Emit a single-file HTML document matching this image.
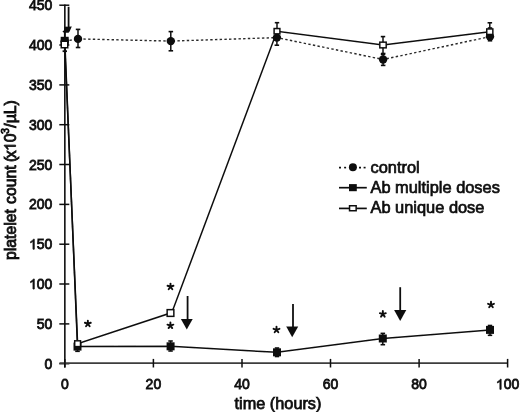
<!DOCTYPE html>
<html><head><meta charset="utf-8"><style>
html,body{margin:0;padding:0;background:#fff;width:520px;height:413px;overflow:hidden}
svg{display:block;filter:grayscale(1)}
text{font-family:"Liberation Sans", sans-serif;fill:#111;stroke:#111;stroke-width:0.45px}
.tk{font-size:14px;stroke-width:0.8px}
.ti{font-size:16.3px;stroke-width:0.75px}
.yl{font-size:15.75px;stroke-width:0.85px}
.lg{font-size:16.4px;stroke-width:0.7px}
.hid{fill:transparent;stroke:transparent}
.ast{font-size:18px;font-weight:bold}
</style></head><body>
<svg width="520" height="413" viewBox="0 0 520 413">
<defs><filter id="bl" x="0" y="0" width="1" height="1"><feGaussianBlur stdDeviation="0.35"/></filter></defs>
<rect width="520" height="413" fill="#fff"/>
<g filter="url(#bl)">
<line x1="64.85" y1="4.4" x2="64.85" y2="367.5" stroke="#111" stroke-width="1.6"/>
<line x1="59.3" y1="363.7" x2="69.3" y2="363.7" stroke="#111" stroke-width="1.5"/>
<text x="52.4" y="368.7" text-anchor="end" class="tk">0</text>
<line x1="59.3" y1="323.9" x2="69.3" y2="323.9" stroke="#111" stroke-width="1.5"/>
<text x="52.4" y="328.9" text-anchor="end" class="tk">50</text>
<line x1="59.3" y1="284.0" x2="69.3" y2="284.0" stroke="#111" stroke-width="1.5"/>
<text x="52.4" y="289.0" text-anchor="end" class="tk"><tspan class="hid">1</tspan>00</text>
<path transform="translate(29.04,289.03) scale(0.006836,-0.006836)" d="M763 0H583V1147Q518 1085 412 1023Q306 961 222 930V1104Q373 1175 486 1276Q599 1377 646 1472H763Z" fill="#111" stroke="#111" stroke-width="117.0"/>
<line x1="59.3" y1="244.2" x2="69.3" y2="244.2" stroke="#111" stroke-width="1.5"/>
<text x="52.4" y="249.2" text-anchor="end" class="tk"><tspan class="hid">1</tspan>50</text>
<path transform="translate(29.04,249.19) scale(0.006836,-0.006836)" d="M763 0H583V1147Q518 1085 412 1023Q306 961 222 930V1104Q373 1175 486 1276Q599 1377 646 1472H763Z" fill="#111" stroke="#111" stroke-width="117.0"/>
<line x1="59.3" y1="204.4" x2="69.3" y2="204.4" stroke="#111" stroke-width="1.5"/>
<text x="52.4" y="209.4" text-anchor="end" class="tk">200</text>
<line x1="59.3" y1="164.5" x2="69.3" y2="164.5" stroke="#111" stroke-width="1.5"/>
<text x="52.4" y="169.5" text-anchor="end" class="tk">250</text>
<line x1="59.3" y1="124.7" x2="69.3" y2="124.7" stroke="#111" stroke-width="1.5"/>
<text x="52.4" y="129.7" text-anchor="end" class="tk">300</text>
<line x1="59.3" y1="84.9" x2="69.3" y2="84.9" stroke="#111" stroke-width="1.5"/>
<text x="52.4" y="89.9" text-anchor="end" class="tk">350</text>
<line x1="59.3" y1="45.0" x2="69.3" y2="45.0" stroke="#111" stroke-width="1.5"/>
<text x="52.4" y="50.0" text-anchor="end" class="tk">400</text>
<line x1="59.3" y1="5.2" x2="69.3" y2="5.2" stroke="#111" stroke-width="1.5"/>
<text x="52.4" y="10.2" text-anchor="end" class="tk">450</text>
<line x1="59.5" y1="363.1" x2="508" y2="363.1" stroke="#3c3c3c" stroke-width="1.8"/>
<line x1="64.8" y1="358.9" x2="64.8" y2="367.5" stroke="#111" stroke-width="1.5"/>
<text x="64.8" y="389.3" text-anchor="middle" class="tk">0</text>
<line x1="153.4" y1="358.9" x2="153.4" y2="367.5" stroke="#111" stroke-width="1.5"/>
<text x="153.4" y="389.3" text-anchor="middle" class="tk">20</text>
<line x1="242.0" y1="358.9" x2="242.0" y2="367.5" stroke="#111" stroke-width="1.5"/>
<text x="242.0" y="389.3" text-anchor="middle" class="tk">40</text>
<line x1="330.5" y1="358.9" x2="330.5" y2="367.5" stroke="#111" stroke-width="1.5"/>
<text x="330.5" y="389.3" text-anchor="middle" class="tk">60</text>
<line x1="419.1" y1="358.9" x2="419.1" y2="367.5" stroke="#111" stroke-width="1.5"/>
<text x="419.1" y="389.3" text-anchor="middle" class="tk">80</text>
<line x1="507.6" y1="358.9" x2="507.6" y2="367.5" stroke="#111" stroke-width="1.5"/>
<text x="507.6" y="389.3" text-anchor="middle" class="tk"><tspan class="hid">1</tspan>00</text>
<path transform="translate(495.92,389.30) scale(0.006836,-0.006836)" d="M763 0H583V1147Q518 1085 412 1023Q306 961 222 930V1104Q373 1175 486 1276Q599 1377 646 1472H763Z" fill="#111" stroke="#111" stroke-width="117.0"/>
<text x="278" y="409" text-anchor="middle" class="ti">time (hours)</text>
<text transform="translate(15.6,179.9) rotate(-90)" x="-80.1" y="0" class="ti yl">platelet <tspan dx="0.9">count</tspan> <tspan dx="-1">(</tspan><tspan dx="-1.5">x</tspan><tspan class="hid" dx="-0.6">1</tspan>0<tspan dy="-6.8" dx="-0.6" font-size="10.6">3</tspan><tspan dy="6.8" dx="0.5">/µL)</tspan></text>
<g transform="translate(15.6,179.9) rotate(-90)">
<path transform="translate(28.90,0.00) scale(0.007690,-0.007690)" d="M763 0H583V1147Q518 1085 412 1023Q306 961 222 930V1104Q373 1175 486 1276Q599 1377 646 1472H763Z" fill="#111" stroke="#111" stroke-width="110.5"/>
</g>
<polyline points="64.8,41.2 78.0,38.9 170.8,41.1 276.9,37.6 383.1,59.5 490.0,36.6" fill="none" stroke="#2a2a2a" stroke-width="1.4" stroke-dasharray="2.4 2.3"/>
<polyline points="64.8,41.0 77.5,346.6 170.6,346.3 277.0,352.3 382.8,338.5 490.0,329.9" fill="none" stroke="#111" stroke-width="1.5"/>
<polyline points="64.7,44.5 77.6,343.7 170.5,313.0 173.2,309.0 277.0,31.2 383.0,45.0 489.8,31.7" fill="none" stroke="#111" stroke-width="1.5"/>
<line x1="78.0" y1="29.4" x2="78.0" y2="47.5" stroke="#111" stroke-width="1.5"/>
<line x1="75.8" y1="29.4" x2="80.3" y2="29.4" stroke="#111" stroke-width="1.6"/>
<line x1="75.8" y1="47.5" x2="80.3" y2="47.5" stroke="#111" stroke-width="1.6"/>
<line x1="170.8" y1="31.6" x2="170.8" y2="50.8" stroke="#111" stroke-width="1.5"/>
<line x1="168.6" y1="31.6" x2="173.1" y2="31.6" stroke="#111" stroke-width="1.6"/>
<line x1="168.6" y1="50.8" x2="173.1" y2="50.8" stroke="#111" stroke-width="1.6"/>
<line x1="276.9" y1="29.5" x2="276.9" y2="45.2" stroke="#111" stroke-width="1.5"/>
<line x1="274.6" y1="29.5" x2="279.1" y2="29.5" stroke="#111" stroke-width="1.6"/>
<line x1="274.6" y1="45.2" x2="279.1" y2="45.2" stroke="#111" stroke-width="1.6"/>
<line x1="383.1" y1="53.5" x2="383.1" y2="65.4" stroke="#111" stroke-width="1.5"/>
<line x1="380.9" y1="53.5" x2="385.4" y2="53.5" stroke="#111" stroke-width="1.6"/>
<line x1="380.9" y1="65.4" x2="385.4" y2="65.4" stroke="#111" stroke-width="1.6"/>
<line x1="490.0" y1="28" x2="490.0" y2="40.8" stroke="#111" stroke-width="1.5"/>
<line x1="487.8" y1="28" x2="492.2" y2="28" stroke="#111" stroke-width="1.6"/>
<line x1="487.8" y1="40.8" x2="492.2" y2="40.8" stroke="#111" stroke-width="1.6"/>
<line x1="77.5" y1="343" x2="77.5" y2="351.3" stroke="#111" stroke-width="1.5"/>
<line x1="75.2" y1="343" x2="79.8" y2="343" stroke="#111" stroke-width="1.6"/>
<line x1="75.2" y1="351.3" x2="79.8" y2="351.3" stroke="#111" stroke-width="1.6"/>
<line x1="170.6" y1="341.0" x2="170.6" y2="351.0" stroke="#111" stroke-width="1.5"/>
<line x1="168.3" y1="341.0" x2="172.8" y2="341.0" stroke="#111" stroke-width="1.6"/>
<line x1="168.3" y1="351.0" x2="172.8" y2="351.0" stroke="#111" stroke-width="1.6"/>
<line x1="277.0" y1="348" x2="277.0" y2="356.5" stroke="#111" stroke-width="1.5"/>
<line x1="274.8" y1="348" x2="279.2" y2="348" stroke="#111" stroke-width="1.6"/>
<line x1="274.8" y1="356.5" x2="279.2" y2="356.5" stroke="#111" stroke-width="1.6"/>
<line x1="382.8" y1="333.4" x2="382.8" y2="344.7" stroke="#111" stroke-width="1.5"/>
<line x1="380.6" y1="333.4" x2="385.1" y2="333.4" stroke="#111" stroke-width="1.6"/>
<line x1="380.6" y1="344.7" x2="385.1" y2="344.7" stroke="#111" stroke-width="1.6"/>
<line x1="490.0" y1="325.5" x2="490.0" y2="335.3" stroke="#111" stroke-width="1.5"/>
<line x1="487.8" y1="325.5" x2="492.2" y2="325.5" stroke="#111" stroke-width="1.6"/>
<line x1="487.8" y1="335.3" x2="492.2" y2="335.3" stroke="#111" stroke-width="1.6"/>
<line x1="277.0" y1="22.7" x2="277.0" y2="39" stroke="#111" stroke-width="1.5"/>
<line x1="274.8" y1="22.7" x2="279.2" y2="22.7" stroke="#111" stroke-width="1.6"/>
<line x1="274.8" y1="39" x2="279.2" y2="39" stroke="#111" stroke-width="1.6"/>
<line x1="383.0" y1="36.6" x2="383.0" y2="54.4" stroke="#111" stroke-width="1.5"/>
<line x1="380.8" y1="36.6" x2="385.2" y2="36.6" stroke="#111" stroke-width="1.6"/>
<line x1="380.8" y1="54.4" x2="385.2" y2="54.4" stroke="#111" stroke-width="1.6"/>
<line x1="489.8" y1="22.8" x2="489.8" y2="38" stroke="#111" stroke-width="1.5"/>
<line x1="487.6" y1="22.8" x2="492.1" y2="22.8" stroke="#111" stroke-width="1.6"/>
<line x1="487.6" y1="38" x2="492.1" y2="38" stroke="#111" stroke-width="1.6"/>
<line x1="64.8" y1="32" x2="64.8" y2="52" stroke="#111" stroke-width="1.8"/>
<line x1="62.6" y1="51.2" x2="67" y2="51.2" stroke="#111" stroke-width="1.8"/>
<circle cx="64.8" cy="41.2" r="4.2" fill="#111"/>
<circle cx="78.0" cy="38.9" r="4.2" fill="#111"/>
<circle cx="170.8" cy="41.1" r="4.2" fill="#111"/>
<circle cx="276.9" cy="37.6" r="4.2" fill="#111"/>
<circle cx="383.1" cy="59.5" r="4.2" fill="#111"/>
<circle cx="490.0" cy="36.6" r="4.2" fill="#111"/>
<rect x="60.7" y="36.8" width="8.0" height="8.0" fill="#111"/>
<rect x="73.5" y="342.6" width="8.0" height="8.0" fill="#111"/>
<rect x="166.6" y="342.3" width="8.0" height="8.0" fill="#111"/>
<rect x="273.0" y="348.3" width="8.0" height="8.0" fill="#111"/>
<rect x="378.8" y="334.5" width="8.0" height="8.0" fill="#111"/>
<rect x="486.0" y="325.9" width="8.0" height="8.0" fill="#111"/>
<rect x="61.25" y="41.25" width="6.50" height="6.50" fill="#fff" stroke="#111" stroke-width="1.5"/>
<rect x="74.70" y="340.80" width="5.80" height="5.80" fill="#fff" stroke="#111" stroke-width="1.5"/>
<rect x="167.15" y="309.65" width="6.70" height="6.70" fill="#fff" stroke="#111" stroke-width="1.5"/>
<rect x="274.10" y="28.55" width="5.80" height="5.30" fill="#fff" stroke="#111" stroke-width="1.5"/>
<rect x="379.80" y="42.15" width="6.40" height="5.70" fill="#fff" stroke="#111" stroke-width="1.5"/>
<rect x="486.75" y="28.95" width="6.10" height="5.50" fill="#fff" stroke="#111" stroke-width="1.5"/>
<line x1="68.6" y1="6.8" x2="68.6" y2="28" stroke="#111" stroke-width="1.8"/>
<polygon points="64.3,26.8 71.8,26.6 69.6,31.4 68.6,32.8 64.0,32.8 62.4,31.6 64.2,30.2" fill="#111"/>
<line x1="187.6" y1="296" x2="187.6" y2="320" stroke="#111" stroke-width="1.8"/>
<polygon points="180.90,319 192.70,319 186.80,329.4" fill="#111"/>
<line x1="293.0" y1="304" x2="293.0" y2="327.5" stroke="#111" stroke-width="1.8"/>
<polygon points="286.20,326.5 298.20,326.5 292.20,337.3" fill="#111"/>
<line x1="400.2" y1="287.2" x2="400.2" y2="311.1" stroke="#111" stroke-width="1.8"/>
<polygon points="394.10,310.1 406.30,310.1 400.20,321.1" fill="#111"/>
<path d="M87.85,323.70L87.85,320.60M87.85,323.70L90.80,322.74M87.85,323.70L89.67,326.20M87.85,323.70L86.03,326.20M87.85,323.70L84.90,322.74" stroke="#111" stroke-width="1.9" stroke-linecap="round" fill="none"/>
<path d="M170.50,286.70L170.50,283.60M170.50,286.70L173.45,285.74M170.50,286.70L172.32,289.20M170.50,286.70L168.68,289.20M170.50,286.70L167.55,285.74" stroke="#111" stroke-width="1.9" stroke-linecap="round" fill="none"/>
<path d="M170.40,325.60L170.40,322.50M170.40,325.60L173.35,324.64M170.40,325.60L172.22,328.10M170.40,325.60L168.58,328.10M170.40,325.60L167.45,324.64" stroke="#111" stroke-width="1.9" stroke-linecap="round" fill="none"/>
<path d="M276.50,329.80L276.50,326.70M276.50,329.80L279.45,328.84M276.50,329.80L278.32,332.30M276.50,329.80L274.68,332.30M276.50,329.80L273.55,328.84" stroke="#111" stroke-width="1.9" stroke-linecap="round" fill="none"/>
<path d="M382.85,314.15L382.85,311.05M382.85,314.15L385.80,313.19M382.85,314.15L384.67,316.65M382.85,314.15L381.03,316.65M382.85,314.15L379.90,313.19" stroke="#111" stroke-width="1.9" stroke-linecap="round" fill="none"/>
<path d="M491.00,304.80L491.00,301.70M491.00,304.80L493.95,303.84M491.00,304.80L492.82,307.30M491.00,304.80L489.18,307.30M491.00,304.80L488.05,303.84" stroke="#111" stroke-width="1.9" stroke-linecap="round" fill="none"/>
<line x1="339" y1="167.6" x2="341" y2="167.6" stroke="#111" stroke-width="1.6"/>
<line x1="344.1" y1="167.6" x2="346.1" y2="167.6" stroke="#111" stroke-width="1.6"/>
<line x1="359" y1="167.6" x2="361" y2="167.6" stroke="#111" stroke-width="1.6"/>
<line x1="363.6" y1="167.6" x2="365.6" y2="167.6" stroke="#111" stroke-width="1.6"/>
<circle cx="352.9" cy="167.2" r="4" fill="#111"/>
<line x1="339" y1="187.7" x2="366.8" y2="187.7" stroke="#111" stroke-width="1.7"/>
<rect x="349" y="184.1" width="7.8" height="7.1" fill="#111"/>
<line x1="339" y1="208.4" x2="366.8" y2="208.4" stroke="#111" stroke-width="1.7"/>
<rect x="349.55" y="205.75" width="6.6" height="5.0" fill="#fff" stroke="#111" stroke-width="1.5"/>
<text x="370.5" y="172.7" class="lg">control</text>
<text x="370.5" y="193" class="lg">Ab multiple doses</text>
<text x="370.5" y="212.8" class="lg">Ab unique dose</text>
</g>
</svg>
</body></html>
